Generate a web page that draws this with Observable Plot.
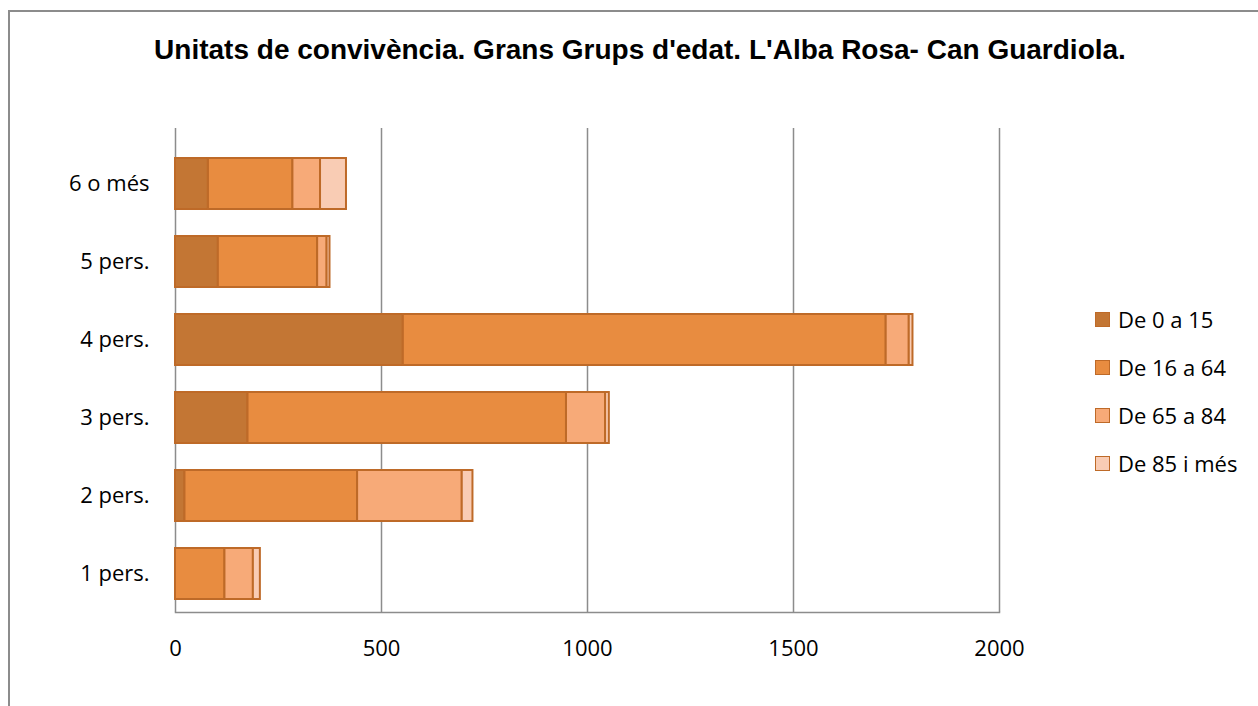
<!DOCTYPE html>
<html>
<head>
<meta charset="utf-8">
<script src="https://cdn.jsdelivr.net/npm/d3@7"></script>
<script src="https://cdn.jsdelivr.net/npm/@observablehq/plot@0.6"></script>
<style>
  html, body { margin: 0; padding: 0; background: #fff; overflow: hidden; }
  body { width: 1258px; height: 706px; position: relative; }
  #frame { position: absolute; left: 8px; top: 10px; width: 2000px; height: 2000px;
           border-left: 2px solid #8c8c8c; border-top: 2px solid #8c8c8c; pointer-events: none; }
  #title { height: 100px; line-height: 100px; width: 1236px; padding-left: 22px; text-align: center;
           font-family: "Liberation Sans", Arial, sans-serif; font-weight: bold; font-size: 28px; color: #000; }
  #chart svg { display: block; }
  #legend { position: absolute; left: 1095px; top: 295px; font-family: "Open Sans", sans-serif; font-size: 22px; color: #000; }
  .item { height: 48px; display: flex; align-items: center; }
  .sw { width: 13px; height: 13px; border: 1.5px solid #BE6A28; margin-right: 8px; }
</style>
</head>
<body>
<div id="frame"></div>
<div id="title">Unitats de convivència. Grans Grups d'edat. L'Alba Rosa- Can Guardiola.</div>
<div id="chart"></div>
<div id="legend"></div>
<script>
const categories = ["6 o més", "5 pers.", "4 pers.", "3 pers.", "2 pers.", "1 pers."];
const groups = ["De 0 a 15", "De 16 a 64", "De 65 a 84", "De 85 i més"];
const colors = ["#C37634", "#E88C40", "#F7AA78", "#F9CCB4"];
const age0to15   = [80, 104, 553, 176, 23, 0];
const age16to64  = [205, 241, 1172, 773, 419, 120];
const age65to84  = [67, 23, 56, 95, 254, 69];
const age85plus  = [63, 7, 9, 9, 26, 17];
const xTicks = [0, 500, 1000, 1500, 2000];

const series = [age0to15, age16to64, age65to84, age85plus];
const data = [];
categories.forEach((c, i) => {
  groups.forEach((g, j) => data.push({cat: c, group: g, value: series[j][i]}));
});

const chart = Plot.plot({
  width: 1258,
  height: 606,
  marginLeft: 175,
  marginRight: 259,
  marginTop: 28,
  marginBottom: 94,
  style: {fontFamily: "'Open Sans', sans-serif", fontSize: "22px", color: "#000", background: "#fff"},
  x: {domain: [0, 2000]},
  y: {domain: categories, range: [42, 514], paddingInner: 0.35, paddingOuter: 0.175},
  color: {domain: groups, range: colors},
  marks: [
    Plot.ruleX(xTicks, {stroke: "#8c8c8c", strokeWidth: 1.5, strokeOpacity: 1}),
    Plot.frame({anchor: "bottom", stroke: "#8c8c8c", strokeWidth: 1.5}),
    Plot.barX(data, Plot.stackX({x: "value", y: "cat", fill: "group", stroke: "#BE6A28", strokeWidth: 2})),
    Plot.axisX({ticks: xTicks, tickSize: 0, tickPadding: 28, fontSize: 22, tickFormat: d => String(d), label: null}),
    Plot.axisY({tickSize: 0, tickPadding: 26, fontSize: 22, label: null})
  ]
});
document.getElementById("chart").appendChild(chart);

const legend = document.getElementById("legend");
groups.forEach((g, j) => {
  const it = document.createElement("div");
  it.className = "item";
  const sw = document.createElement("div");
  sw.className = "sw";
  sw.style.background = colors[j];
  const tx = document.createElement("span");
  tx.textContent = g;
  it.appendChild(sw);
  it.appendChild(tx);
  legend.appendChild(it);
});
</script>
</body>
</html>
